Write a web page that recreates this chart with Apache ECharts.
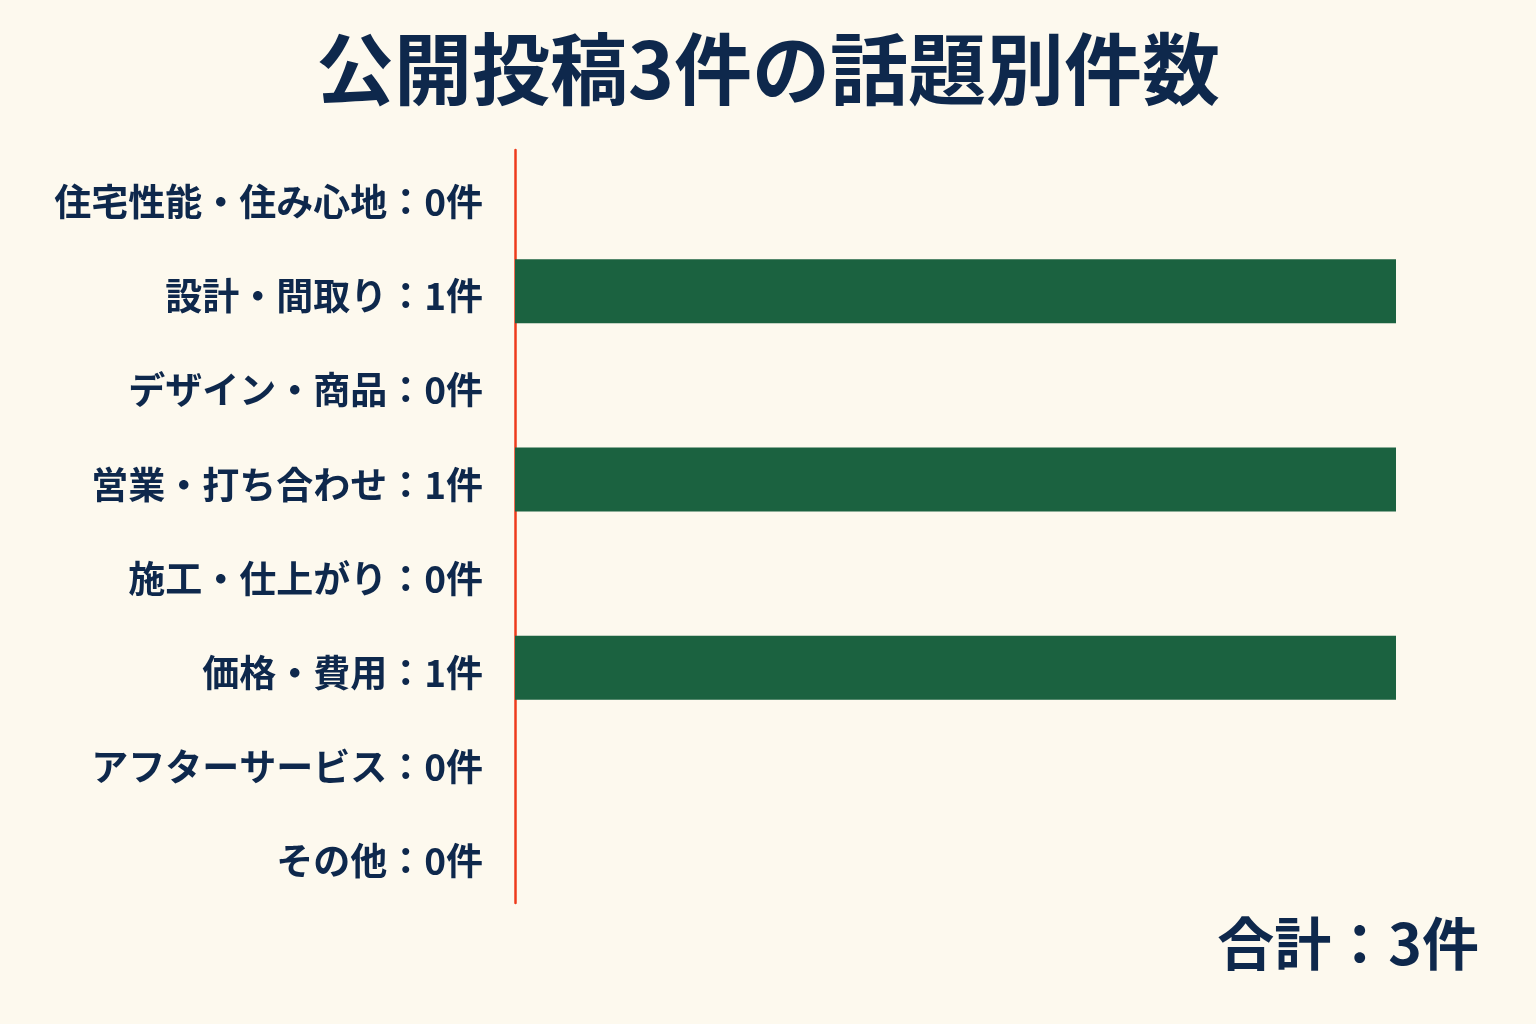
<!DOCTYPE html>
<html><head><meta charset="utf-8">
<script src="https://cdn.jsdelivr.net/npm/echarts@6/dist/echarts.min.js"></script>
<style>html,body{margin:0;padding:0;background:#fdf9ee;}#c{width:1536px;height:1024px;}</style>
</head><body><div id="c"></div>
<script>
const titleText = '公開投稿3件の話題別件数';
const categories = ['住宅性能・住み心地','設計・間取り','デザイン・商品','営業・打ち合わせ','施工・仕上がり','価格・費用','アフターサービス','その他'];
const counts = [0,1,0,1,0,1,0,0];
const unit = '件';
const totalLabel = '合計';
const total = counts.reduce((a,b)=>a+b,0);
const font = '"Noto Sans CJK JP","Noto Sans",sans-serif';
const navy = '#0e284c';
const chart = echarts.init(document.getElementById('c'));
chart.setOption({
  backgroundColor:'#fdf9ee',
  animation:false,
  title:[
    {text:titleText,left:'center',top:25,textStyle:{fontFamily:font,fontWeight:'bold',fontSize:78,color:navy}},
    {text:totalLabel+'：'+total+unit,right:52,top:910,textStyle:{fontFamily:font,fontWeight:'bold',fontSize:57,color:navy}}
  ],
  grid:{left:515,right:140,top:150,bottom:121,containLabel:false},
  xAxis:{type:'value',min:0,max:1,show:false},
  yAxis:{type:'category',inverse:true,data:categories,
    axisLine:{show:true,lineStyle:{color:'#ee3b1c',width:2.5}},
    axisTick:{show:false},splitLine:{show:false},
    axisLabel:{margin:32,color:navy,
      formatter:(v,i)=>'{a|'+v+'：'+counts[i]+unit+'}',
      rich:{a:{fontFamily:font,fontWeight:'bold',fontSize:37,color:navy,padding:[10,0,0,0]}}}
  },
  series:[{type:'bar',data:counts,barWidth:64,itemStyle:{color:'#1b6240'},silent:true}]
});
</script></body></html>
